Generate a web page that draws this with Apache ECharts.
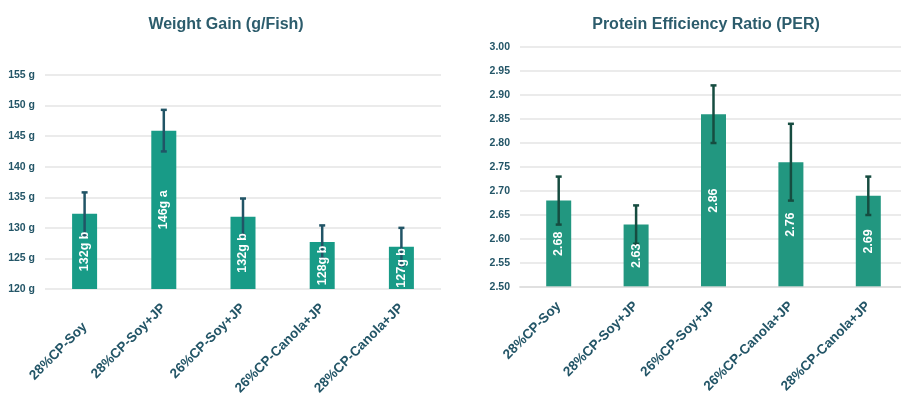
<!DOCTYPE html>
<html>
<head>
<meta charset="utf-8">
<script src="https://cdn.jsdelivr.net/npm/echarts@6/dist/echarts.min.js"></script>
<style>
  html, body { margin: 0; padding: 0; background: #ffffff; }
  #chart { width: 901px; height: 396px; }
</style>
</head>
<body>
<div id="chart"></div>
<script>
// Diet treatments
const categories = ['28%CP-Soy', '28%CP-Soy+JP', '26%CP-Soy+JP', '26%CP-Canola+JP', '28%CP-Canola+JP'];

// Weight gain (g/fish), with error and significance letters
const weightGain = [132.3, 145.9, 131.8, 127.7, 126.9];
const weightGainErr = [3.5, 3.4, 3.0, 2.7, 3.1];
const weightGainLetters = ['b', 'a', 'b', 'b', 'b'];

// Protein efficiency ratio, with error
const per = [2.68, 2.63, 2.86, 2.76, 2.69];
const perErr = [0.05, 0.04, 0.06, 0.08, 0.04];

const TEXT = '#235567';
const FONT = 'Liberation Sans, Arial, sans-serif';

function errorBars(color) {
  return function (params, api) {
    const i = api.value(0);
    const v = api.value(1);
    const e = api.value(2);
    const top = api.coord([i, v + e]);
    const bot = api.coord([i, v - e]);
    const hw = 3;
    const style = { stroke: color, lineWidth: 2.5 };
    return {
      type: 'group',
      children: [
        { type: 'line', shape: { x1: top[0], y1: top[1], x2: bot[0], y2: bot[1] }, style: style },
        { type: 'line', shape: { x1: top[0] - hw, y1: top[1], x2: top[0] + hw, y2: top[1] }, style: style },
        { type: 'line', shape: { x1: bot[0] - hw, y1: bot[1], x2: bot[0] + hw, y2: bot[1] }, style: style }
      ]
    };
  };
}

function catAxis(gridIndex, firstShift) {
  return {
    type: 'category',
    gridIndex: gridIndex,
    data: categories.map(function (c, i) {
      if (firstShift && i === 0) {
        // the short first label sits a little lower on the weight chart
        return { value: c, textStyle: { padding: [0, 13, 0, 0] } };
      }
      return c;
    }),
    axisTick: { show: false },
    axisLine: { show: gridIndex === 1, lineStyle: { color: 'rgba(220,220,220,0.7)', width: 2 } },
    z: 5,
    axisLabel: {
      interval: 0,
      rotate: 45,
      margin: 17,
      color: TEXT,
      fontFamily: FONT,
      fontWeight: 'bold',
      fontSize: 13.5,
      lineHeight: 13.5,
      formatter: function (value, index) {
        return (firstShift && index === 0) ? '\n\n' + value : value;
      }
    }
  };
}

function valAxis(gridIndex, min, max, interval, fmt) {
  return {
    type: 'value',
    gridIndex: gridIndex,
    min: min,
    max: max,
    interval: interval,
    axisLine: { show: false },
    axisTick: { show: false },
    splitLine: { lineStyle: { color: '#e4e4e4', width: 1.5 } },
    axisLabel: {
      margin: 10,
      color: TEXT,
      fontFamily: FONT,
      fontWeight: 'bold',
      fontSize: 10.5,
      formatter: fmt
    }
  };
}

const barLabel = {
  show: true,
  position: 'inside',
  rotate: 90,
  color: '#ffffff',
  fontFamily: FONT,
  fontWeight: 'bold',
  fontSize: 12.5
};

const chart = echarts.init(document.getElementById('chart'), null, { renderer: 'canvas' });

chart.setOption({
  animation: false,
  backgroundColor: '#ffffff',
  title: [
    {
      text: 'Weight Gain (g/Fish)',
      left: 221, top: 12, textAlign: 'center',
      textStyle: { color: '#2c5c6c', fontFamily: FONT, fontWeight: 'bold', fontSize: 16 }
    },
    {
      text: 'Protein Efficiency Ratio (PER)',
      left: 701, top: 12, textAlign: 'center',
      textStyle: { color: '#2c5c6c', fontFamily: FONT, fontWeight: 'bold', fontSize: 16 }
    }
  ],
  grid: [
    { left: 45, right: 460, top: 75, bottom: 107, outerBoundsMode: 'none' },
    { left: 520, right: -6, top: 47, bottom: 109, outerBoundsMode: 'none' }
  ],
  xAxis: [catAxis(0, true), catAxis(1, false)],
  yAxis: [
    valAxis(0, 120, 155, 5, '{value} g'),
    valAxis(1, 2.5, 3.0, 0.05, function (v) { return v.toFixed(2); })
  ],
  series: [
    {
      type: 'bar', xAxisIndex: 0, yAxisIndex: 0,
      data: weightGain, barWidth: 25, barGap: '-100%', z: 2,
      itemStyle: { color: '#189b87' }
    },
    {
      type: 'custom', xAxisIndex: 0, yAxisIndex: 0, z: 3,
      renderItem: errorBars('#215466'),
      encode: { x: 0, y: 1 },
      data: weightGain.map(function (v, i) { return [i, v, weightGainErr[i]]; })
    },
    {
      type: 'bar', xAxisIndex: 0, yAxisIndex: 0,
      data: weightGain, barWidth: 25, barGap: '-100%', z: 4,
      itemStyle: { color: 'rgba(0,0,0,0)' },
      label: Object.assign({}, barLabel, {
        formatter: function (p) {
          return Math.round(p.value) + 'g ' + weightGainLetters[p.dataIndex];
        }
      })
    },
    {
      type: 'bar', xAxisIndex: 1, yAxisIndex: 1,
      data: per, barWidth: 25, barGap: '-100%', z: 2,
      itemStyle: { color: '#229780' }
    },
    {
      type: 'custom', xAxisIndex: 1, yAxisIndex: 1, z: 3,
      renderItem: errorBars('#164c40'),
      encode: { x: 0, y: 1 },
      data: per.map(function (v, i) { return [i, v, perErr[i]]; })
    },
    {
      type: 'bar', xAxisIndex: 1, yAxisIndex: 1,
      data: per, barWidth: 25, barGap: '-100%', z: 4,
      itemStyle: { color: 'rgba(0,0,0,0)' },
      label: Object.assign({}, barLabel, {
        formatter: function (p) { return p.value.toFixed(2); }
      })
    }
  ]
});
</script>
</body>
</html>
